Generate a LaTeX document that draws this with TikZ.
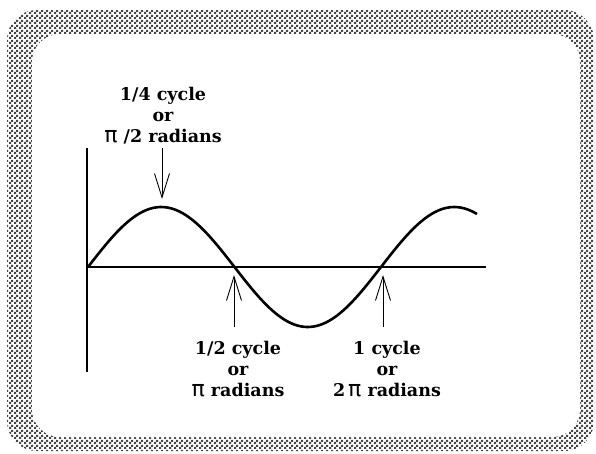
\documentclass[tikz,border=0pt]{standalone}
\usepackage{fontspec}
\setmainfont{DejaVu Serif}
\newfontfamily\pifont{DejaVu Sans}
\newcommand{\mypi}{{\pifont\mdseries\fontsize{22}{21}\selectfont π}}
\usetikzlibrary{patterns,arrows.meta}
\pgfdeclarepatternformonly{finecheck}{\pgfpointorigin}{\pgfqpoint{4.6pt}{4.6pt}}{\pgfqpoint{4.6pt}{4.6pt}}{
  \pgfpathrectangle{\pgfpointorigin}{\pgfqpoint{2.3pt}{2.3pt}}
  \pgfpathrectangle{\pgfqpoint{2.3pt}{2.3pt}}{\pgfqpoint{2.3pt}{2.3pt}}
  \pgfusepath{fill}}
\tikzset{
  lbl/.style={align=center, font=\fontsize{17.5}{21}\selectfont\bfseries, inner sep=0pt},
  thick line/.style={line width=2.4pt, line cap=butt},
  arr/.style={line width=0.9pt, -{Straight Barb[length=24pt,width=15pt,line width=0.9pt]}},
}
\begin{document}
\begin{tikzpicture}[x=1pt,y=-1pt]
\useasboundingbox (0,0) rectangle (596,453);
% frame
\fill[pattern=finecheck, pattern color=gray!55!black, rounded corners=30pt] (7,10) rectangle (594,451);
\fill[white, rounded corners=28pt] (32,34) rectangle (580,437);
% axes
\coordinate (vtop) at (87,148);
\coordinate (vbot) at (87,372);
\coordinate (o) at (87,267);
\coordinate (hend) at (486,267);
\draw[thick line] (vtop) -- (vbot);
\draw[thick line] (o) -- (hend);
% curve
\draw[line width=2.6pt, line join=round] plot[domain=88:477, samples=120, smooth] (\x, {267-60*sin((\x-88)/293*360)});
% labels
\node[lbl, anchor=north] (q) at (163,87) {1/4 cycle\\or\\\mypi\ /2 radians};
\node[lbl, anchor=north] (h) at (238,341) {1/2 cycle\\or\\\mypi\ radians};
\node[lbl, anchor=north] (f) at (387,341) {1 cycle\\or\\2\,\mypi\ radians};
% arrows
\coordinate (qt) at (162,148);
\coordinate (qp) at (162,199);
\coordinate (ht) at (234,327);
\coordinate (hp) at (234,275);
\coordinate (ft) at (383,327);
\coordinate (fp) at (383,275);
\draw[arr] (qt) -- (qp);
\draw[arr] (ht) -- (hp);
\draw[arr] (ft) -- (fp);
\end{tikzpicture}
\end{document}
